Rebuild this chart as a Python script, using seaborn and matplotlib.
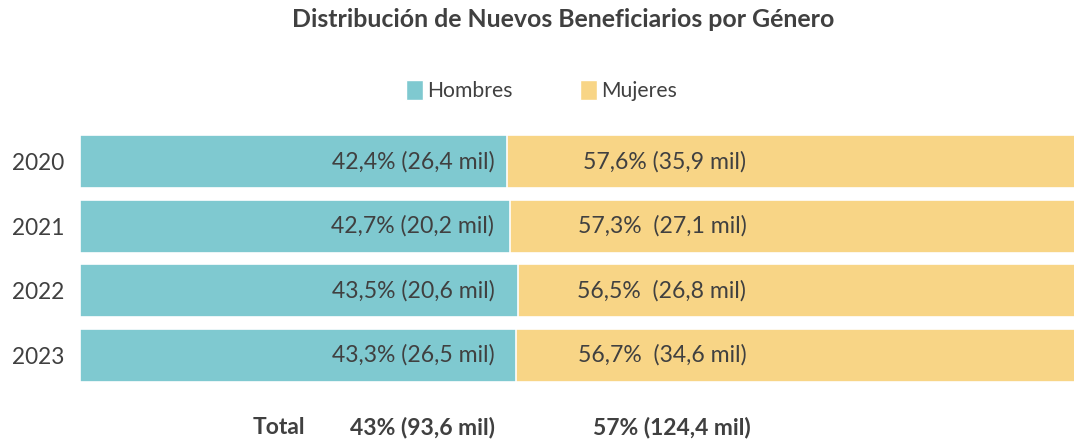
import pandas as pd
import matplotlib.pyplot as plt
import seaborn as sns
from matplotlib.patches import Patch

years = ["2020", "2021", "2022", "2023"]
hombres_pct = [42.4, 42.7, 43.5, 43.3]
mujeres_pct = [57.6, 57.3, 56.5, 56.7]
hombres_labels = ["42,4% (26,4 mil)", "42,7% (20,2 mil)", "43,5% (20,6 mil)", "43,3% (26,5 mil)"]
mujeres_labels = ["57,6% (35,9 mil)", "57,3%  (27,1 mil)", "56,5%  (26,8 mil)", "56,7%  (34,6 mil)"]
total_labels = ["Total", "43% (93,6 mil)", "57% (124,4 mil)"]

TEAL = "#7FC9D0"
YELLOW = "#F8D586"
TXT = "#404040"

sns.set_theme(style="white")
plt.rcParams["font.family"] = ["Lato", "DejaVu Sans"]

df = pd.DataFrame({"year": years, "hombres": hombres_pct, "mujeres": mujeres_pct})
df["total"] = df["hombres"] + df["mujeres"]

fig = plt.figure(figsize=(10.74, 4.40), dpi=100)
ax = fig.add_axes([80 / 1074, 1 - 387.6 / 440, 1008 / 1074, 258.4 / 440])

# yellow full bar underneath, teal (hombres) on top
sns.barplot(data=df, y="year", x="total", color=YELLOW, orient="h", width=0.82,
            edgecolor="white", linewidth=1.2, saturation=1, ax=ax)
sns.barplot(data=df, y="year", x="hombres", color=TEAL, orient="h", width=0.82,
            edgecolor="white", linewidth=1.2, saturation=1, ax=ax)

ax.set_xlim(0, 100)
ax.set_ylim(3.5, -0.5)
ax.set_xlabel("")
ax.set_ylabel("")
ax.set_xticks([])
ax.tick_params(axis="y", length=0, pad=11, labelsize=16.3, labelcolor=TXT)
sns.despine(ax=ax, left=True, bottom=True)

for i in range(len(years)):
    ax.text(41.1, i, hombres_labels[i], ha="right", va="center", fontsize=16.6, color=TXT)
    ax.text(66.1, i, mujeres_labels[i], ha="right", va="center", fontsize=16.6, color=TXT)

ax.text(22.3, 4.12, total_labels[0], ha="right", va="center", fontsize=16.5,
        fontweight="bold", color=TXT, clip_on=False)
ax.text(41.2, 4.12, total_labels[1], ha="right", va="center", fontsize=16.5,
        fontweight="bold", color=TXT, clip_on=False)
ax.text(66.5, 4.12, total_labels[2], ha="right", va="center", fontsize=16.5,
        fontweight="bold", color=TXT, clip_on=False)

fig.text(0.524, 0.955, "Distribución de Nuevos Beneficiarios por Género", ha="center",
         va="center", fontsize=17.9, fontweight="bold", color=TXT)

handles = [Patch(facecolor=TEAL, label="Hombres"), Patch(facecolor=YELLOW, label="Mujeres")]
fig.legend(handles=handles, loc="center", bbox_to_anchor=(0.5045, 0.795), ncol=2,
           frameon=False, handlelength=0.8, handleheight=1.1, handletextpad=0.2,
           columnspacing=3.2, prop={"size": 15.2}, labelcolor=TXT)

fig.savefig("out.png", dpi=100)
